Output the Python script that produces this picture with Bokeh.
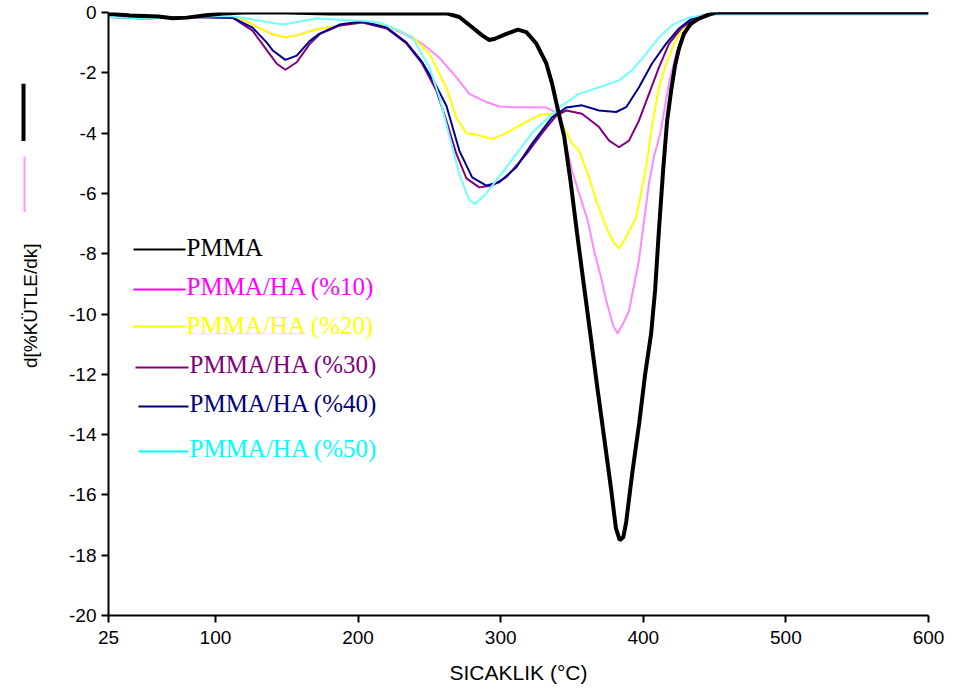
import math
from bokeh.plotting import figure
from bokeh.layouts import row
from bokeh.models import Range1d, FixedTicker, Label, BoxAnnotation
from bokeh.core.properties import value
from bokeh.embed import file_html
from bokeh.resources import INLINE

# ---- data (temperature in °C, derivative mass loss d[%KÜTLE/dk]) ----
t_pmma = [25, 40, 60, 70, 80, 92, 105, 120, 150, 180, 262, 271, 280, 287, 292, 296, 304, 312, 318, 325,
          332, 336, 340, 344.5, 349, 353.5, 358.5, 363.4, 367.8, 372.7, 377.4, 380.8, 383.5, 386, 388, 392.2,
          397.2, 401.3, 405.5, 408.3, 411, 413.9, 416.7, 419.5, 422.3, 425, 428.5, 433.4, 439, 446, 451, 600]
d_pmma = [-0.03, -0.1, -0.13, -0.19, -0.17, -0.1, -0.03, 0.0, 0.0, -0.03, -0.03, -0.15, -0.49, -0.76, -0.91,
          -0.87, -0.71, -0.57, -0.65, -1.03, -1.69, -2.35, -3.2, -4.1, -5.6, -7.3, -9.1, -10.85, -12.45, -14.15,
          -15.8, -17.1, -17.5, -17.4, -16.9, -15.3, -13.6, -12.0, -10.65, -9.2, -7.2, -5.24, -3.6, -2.6, -1.75,
          -1.2, -0.7, -0.37, -0.2, -0.07, 0.0, 0.0]

t_ha10 = [25, 50, 80, 110, 120, 130, 140, 149, 158, 166, 175, 190, 203, 220, 234, 245, 257, 269, 278, 290,
          299, 310, 322, 332, 336, 340, 345, 350, 355, 361, 366, 370.5, 374, 379, 382, 386, 390, 397, 404, 407.6,
          412, 418, 423.7, 432, 439, 450, 600]
d_ha10 = [-0.1, -0.15, -0.15, -0.12, -0.25, -0.5, -0.72, -0.82, -0.75, -0.62, -0.52, -0.42, -0.33, -0.45, -0.75,
          -1.03, -1.5, -2.15, -2.7, -2.97, -3.12, -3.14, -3.14, -3.15, -3.25, -3.4, -4.2, -5.24, -6.0, -6.9, -8.0,
          -8.8, -9.55, -10.4, -10.65, -10.3, -9.9, -8.2, -5.67, -4.75, -4.0, -2.35, -1.26, -0.5, -0.2, -0.05, 0.0]

t_ha20 = [25, 50, 80, 110, 120, 130, 140, 149, 158, 166, 175, 190, 203, 220, 229, 238, 250, 262, 269, 276,
          285, 294, 304, 315, 327, 336, 341, 350, 355, 362, 367, 375, 379, 383, 388, 395, 402, 406, 411, 416,
          421.6, 427, 437, 446, 460, 600]
d_ha20 = [-0.15, -0.2, -0.15, -0.12, -0.25, -0.5, -0.72, -0.82, -0.75, -0.62, -0.52, -0.42, -0.33, -0.45, -0.6,
          -0.8, -1.37, -2.5, -3.5, -4.0, -4.08, -4.2, -4.0, -3.7, -3.4, -3.36, -3.5, -4.35, -4.58, -5.47, -6.24,
          -7.23, -7.6, -7.83, -7.45, -6.8, -5.14, -3.8, -2.48, -1.7, -1.03, -0.6, -0.2, -0.05, 0.0, 0.0]

t_ha30 = [25, 50, 80, 112, 126, 136, 143, 149, 157, 166, 173, 187, 203, 220, 234, 245, 255, 262, 269, 276,
          285, 294, 304, 318, 329, 339, 346, 357, 369, 376, 383, 390, 397, 404, 411, 418, 427, 437, 446, 460, 600]
d_ha30 = [-0.15, -0.2, -0.15, -0.17, -0.6, -1.25, -1.7, -1.9, -1.65, -1.05, -0.72, -0.43, -0.33, -0.53, -1.03,
          -1.7, -2.6, -3.6, -4.7, -5.5, -5.8, -5.74, -5.46, -4.7, -4.0, -3.42, -3.25, -3.36, -3.8, -4.25, -4.47,
          -4.25, -3.58, -2.7, -1.82, -1.04, -0.5, -0.18, -0.05, 0.0, 0.0]

t_ha40 = [25, 50, 80, 112, 126, 136, 140, 149, 157, 166, 173, 187, 203, 220, 234, 245, 255, 262, 271, 280,
          290, 299, 311, 322, 336, 346, 357, 369, 381, 388, 397, 406, 416, 425, 434, 446, 460, 600]
d_ha40 = [-0.1, -0.15, -0.15, -0.17, -0.5, -1.0, -1.25, -1.57, -1.43, -0.95, -0.7, -0.4, -0.3, -0.5, -1.0,
          -1.65, -2.45, -3.1, -4.58, -5.47, -5.74, -5.63, -5.13, -4.35, -3.48, -3.15, -3.08, -3.25, -3.3, -3.14,
          -2.48, -1.7, -1.03, -0.53, -0.2, -0.05, 0.0, 0.0]

t_ha50 = [25, 50, 80, 110, 120, 131, 140, 148, 159, 171, 190, 203, 215, 229, 238, 250, 257, 264, 271, 278,
          282, 290, 304, 322, 341, 355, 369, 383, 392, 402, 411, 420, 430, 440, 455, 600]
d_ha50 = [-0.15, -0.2, -0.15, -0.12, -0.18, -0.27, -0.35, -0.4, -0.3, -0.2, -0.25, -0.27, -0.33, -0.6, -0.82,
          -1.82, -2.8, -4.1, -5.35, -6.23, -6.35, -6.0, -5.13, -4.0, -3.15, -2.7, -2.48, -2.25, -1.92, -1.37,
          -0.82, -0.43, -0.2, -0.1, -0.07, -0.07]

x_ticks = [25, 100, 200, 300, 400, 500, 600]
y_ticks = [-20, -18, -16, -14, -12, -10, -8, -6, -4, -2, 0]

series_names = ["PMMA", "PMMA/HA (%10)", "PMMA/HA (%20)", "PMMA/HA (%30)", "PMMA/HA (%40)", "PMMA/HA (%50)"]
line_colors = ["#000000", "#FF88FF", "#FFFF00", "#800080", "#000090", "#70FFFF"]
text_colors = ["#000000", "#FF00FF", "#FFFF00", "#800080", "#000080", "#00FFFF"]
series_t = [t_pmma, t_ha10, t_ha20, t_ha30, t_ha40, t_ha50]
series_d = [d_pmma, d_ha10, d_ha20, d_ha30, d_ha40, d_ha50]
y_title = "d[%KÜTLE/dk]"

W, H = 953, 695
SIDE = 46                      # width of the strip holding the y title
LEFT, TOP, RIGHT, BOTTOM = 108, 12, 25, 80

# ---- left strip: y title and its two marks (canvas pixel space, y downward) ----
side = figure(width=SIDE, height=H, output_backend="svg", toolbar_location=None,
              x_range=Range1d(0, SIDE), y_range=Range1d(H, 0),
              min_border_left=0, min_border_right=0, min_border_top=0, min_border_bottom=0)
side.axis.visible = False
side.grid.visible = False
side.outline_line_color = None
side.background_fill_color = "white"
side.border_fill_color = "white"
side.quad(left=[21], right=[25], top=[82], bottom=[148], fill_color="black", line_color=None)
side.quad(left=[23], right=[25], top=[166], bottom=[230], fill_color="#FF99FF", line_color=None)
side.text(x=[30], y=[338], text=[y_title], angle=math.pi / 2, text_align="center",
          text_baseline="middle", text_font=value("Liberation Sans"), text_font_size="19px",
          text_color="black")

# ---- main chart ----
p = figure(width=W - SIDE, height=H, output_backend="svg", toolbar_location=None,
           x_range=Range1d(25, 600), y_range=Range1d(-20, 0),
           min_border_left=LEFT - SIDE, min_border_right=RIGHT, min_border_top=TOP, min_border_bottom=BOTTOM)
p.outline_line_color = None
p.xgrid.visible = False
p.ygrid.visible = False
p.background_fill_color = "white"
p.border_fill_color = "white"

for ax in (p.xaxis[0], p.yaxis[0]):
    ax.axis_line_color = "black"
    ax.axis_line_width = 2
    ax.major_tick_line_color = "black"
    ax.major_tick_line_width = 2
    ax.major_tick_out = 7
    ax.major_tick_in = 0
    ax.minor_tick_line_color = None
    ax.major_label_text_font = "Liberation Sans"
    ax.major_label_text_font_size = "19px"
    ax.major_label_text_color = "black"

p.xaxis.ticker = FixedTicker(ticks=x_ticks)
p.yaxis.ticker = FixedTicker(ticks=y_ticks)
p.yaxis.major_label_overrides = {v: str(v) for v in y_ticks}
p.xaxis.major_label_overrides = {v: str(v) for v in x_ticks}
p.xaxis.major_label_standoff = 8
p.yaxis.major_label_standoff = 5
p.xaxis.axis_label = "SICAKLIK (°C)"
p.xaxis.axis_label_text_font = "Liberation Sans"
p.xaxis.axis_label_text_font_size = "21px"
p.xaxis.axis_label_text_font_style = "normal"
p.xaxis.axis_label_text_color = "black"
p.xaxis.axis_label_standoff = 14

# draw coloured series first, PMMA on top
order = [1, 2, 3, 4, 5, 0]
for i in order:
    p.line(series_t[i], series_d[i], line_color=line_colors[i],
           line_width=4 if i == 0 else 2)

# screen units are relative to the frame's bottom-left corner
FRAME_BOTTOM = H - BOTTOM
def sx(x_canvas):
    return x_canvas - LEFT
def sy(y_canvas):
    return FRAME_BOTTOM - y_canvas

baselines = [247, 286, 325, 364, 403, 448]
text_x = [186, 186, 186, 189, 189, 189]
line_left = [133, 133, 133, 135, 138, 138]
line_y = [249, 289, 326, 367, 406, 451]
for i, name in enumerate(series_names):
    p.add_layout(BoxAnnotation(left=sx(line_left[i]), right=sx(text_x[i] - 1),
                               top=sy(line_y[i] - 1), bottom=sy(line_y[i] + 1),
                               left_units="screen", right_units="screen",
                               top_units="screen", bottom_units="screen",
                               fill_color=text_colors[i], fill_alpha=1.0, line_color=None))
    p.add_layout(Label(x=sx(text_x[i]), y=sy(baselines[i]), x_units="screen", y_units="screen",
                       text=name, text_font="Liberation Serif", text_font_size="25px",
                       text_color=text_colors[i], text_baseline="alphabetic"))

layout = row(side, p, spacing=0)
open("out.html", "w").write(file_html(layout, INLINE))
